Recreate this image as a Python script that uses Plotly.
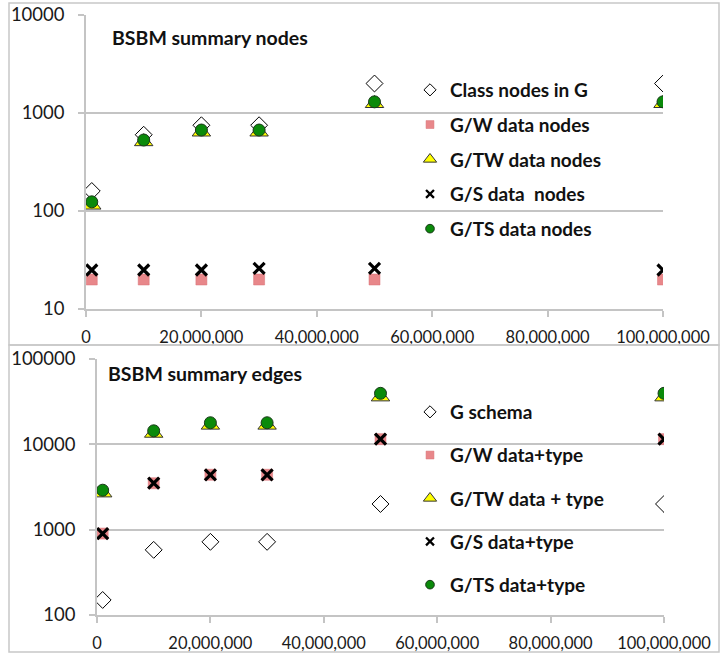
import plotly.graph_objects as go

# ---------------- data ----------------
db_sizes = [1_000_000, 10_000_000, 20_000_000, 30_000_000, 50_000_000, 100_000_000]

# summary nodes (top chart)
class_nodes_g = [160, 600, 750, 750, 2000, 2000]
gw_data_nodes = [20, 20, 20, 20, 20, 20]
gtw_data_nodes = [115, 510, 640, 640, 1250, 1250]
gs_data_nodes = [25, 25, 25, 26, 26, 25]
gts_data_nodes = [124, 530, 670, 670, 1300, 1300]

# summary edges (bottom chart)
g_schema = [150, 580, 720, 720, 2000, 2000]
gw_data_type = [900, 3500, 4400, 4400, 11500, 11500]
gtw_data_type = [2700, 13500, 16800, 16800, 36000, 36000]
gs_data_type = [900, 3500, 4400, 4400, 11500, 11500]
gts_data_type = [2900, 14400, 17900, 17900, 39600, 39600]

node_names = ["Class nodes in G", "G/W data nodes", "G/TW data nodes",
              "G/S data  nodes", "G/TS data nodes"]
edge_names = ["G schema", "G/W data+type", "G/TW data + type",
              "G/S data+type", "G/TS data+type"]

x_ticks = [0, 20_000_000, 40_000_000, 60_000_000, 80_000_000, 100_000_000]
y_ticks_top = [10, 100, 1000, 10000]
y_ticks_bottom = [100, 1000, 10000, 100000]

# ---------------- styles ----------------
W, H = 720, 655
FONT = "Lato"
GRID = "#c4c4c4"


def marker_styles(scale=1.0):
    return [
        dict(symbol="diamond", size=13 * scale, color="white",
             line=dict(color="black", width=1)),
        dict(symbol="square", size=11 * scale, color="#e8878a",
             line=dict(color="#d87376", width=0.5)),
        dict(symbol="triangle-up", size=16 * scale, color="#ffff00",
             line=dict(color="#333333", width=1)),
        dict(symbol="x-thin", size=11 * scale, color="black",
             line=dict(color="black", width=3.2 * scale)),
        dict(symbol="circle", size=12 * scale, color="#0a8a0a",
             line=dict(color="#1a3a1a", width=1)),
    ]


def px_x(p):
    return p / W


def px_y(p):
    return 1 - p / H


fig = go.Figure()

top_series = [class_nodes_g, gw_data_nodes, gtw_data_nodes, gs_data_nodes, gts_data_nodes]
bot_series = [g_schema, gw_data_type, gtw_data_type, gs_data_type, gts_data_type]

data_styles = marker_styles(1.0)
leg_styles = marker_styles(0.72)

for i, (vals, name) in enumerate(zip(top_series, node_names)):
    fig.add_trace(go.Scatter(x=db_sizes, y=vals, mode="markers", name=name,
                             marker=data_styles[i], showlegend=False,
                             xaxis="x", yaxis="y"))
for i, (vals, name) in enumerate(zip(bot_series, edge_names)):
    fig.add_trace(go.Scatter(x=db_sizes, y=vals, mode="markers", name=name,
                             marker=data_styles[i], showlegend=False,
                             xaxis="x2", yaxis="y2"))

# legend entries
for i, name in enumerate(node_names):
    fig.add_trace(go.Scatter(x=[None], y=[None], mode="markers", name=name,
                             marker=leg_styles[i], legend="legend",
                             legendgroup="n%d" % i, xaxis="x", yaxis="y"))
for i, name in enumerate(edge_names):
    fig.add_trace(go.Scatter(x=[None], y=[None], mode="markers", name=name,
                             marker=leg_styles[i], legend="legend2",
                             legendgroup="e%d" % i, xaxis="x2", yaxis="y2"))

xaxis_common = dict(
    range=[0, 100_000_000], tickvals=x_ticks, tickformat=",d", automargin=False,
    showgrid=False, zeroline=False, showline=True, linecolor=GRID, linewidth=1.5,
    ticks="outside", ticklen=6, tickcolor=GRID, tickwidth=1.5,
    tickfont=dict(family=FONT, size=16.5, color="#1a1a1a"), ticklabelstandoff=6,
)
yaxis_common = dict(
    type="log", showgrid=True, gridcolor=GRID, gridwidth=1.5, zeroline=False,
    showline=True, linecolor=GRID, linewidth=1.5, automargin=False,
    ticks="outside", ticklen=6, tickcolor=GRID, tickwidth=1.5,
    tickfont=dict(family=FONT, size=18.5, color="#1a1a1a"), ticklabelstandoff=10,
)

legend_common = dict(
    xanchor="left", yanchor="top", bgcolor="rgba(0,0,0,0)",
    font=dict(family=FONT, size=19, color="#111111", weight="bold"),
    traceorder="grouped", itemclick=False, itemdoubleclick=False,
)

fig.update_layout(
    width=W, height=H, margin=dict(l=0, r=0, t=0, b=0, autoexpand=False),
    paper_bgcolor="white", plot_bgcolor="white",
    xaxis=dict(domain=[px_x(86), px_x(663)], anchor="y", **xaxis_common),
    yaxis=dict(domain=[px_y(309), px_y(15)], anchor="x", range=[1, 4],
               tickvals=y_ticks_top, ticktext=[str(v) for v in y_ticks_top],
               **yaxis_common),
    xaxis2=dict(domain=[px_x(97), px_x(664)], anchor="y2", **xaxis_common),
    yaxis2=dict(domain=[px_y(615), px_y(359)], anchor="x2", range=[2, 5],
                tickvals=y_ticks_bottom, ticktext=[str(v) for v in y_ticks_bottom],
                **yaxis_common),
    legend=dict(x=px_x(410), y=px_y(71), tracegroupgap=7, **legend_common),
    legend2=dict(x=px_x(410), y=px_y(393), tracegroupgap=15.5, **legend_common),
    shapes=[
        dict(type="rect", xref="paper", yref="paper",
             x0=px_x(9), x1=px_x(719), y0=px_y(345), y1=px_y(3),
             line=dict(color="#c8c8c8", width=1.5)),
        dict(type="rect", xref="paper", yref="paper",
             x0=px_x(9), x1=px_x(719), y0=px_y(652), y1=px_y(345),
             line=dict(color="#c8c8c8", width=1.5)),
    ],
    annotations=[
        dict(text="BSBM summary nodes", xref="paper", yref="paper",
             x=px_x(110), y=px_y(38), xanchor="left", yanchor="middle",
             showarrow=False, font=dict(family=FONT, size=19.5, color="#111111", weight="bold")),
        dict(text="BSBM summary edges", xref="paper", yref="paper",
             x=px_x(106), y=px_y(373), xanchor="left", yanchor="middle",
             showarrow=False, font=dict(family=FONT, size=19.5, color="#111111", weight="bold")),
    ],
    showlegend=True,
)

fig.write_html("out.html", config={"displayModeBar": False},
               post_script="document.body.style.margin='0px';")
